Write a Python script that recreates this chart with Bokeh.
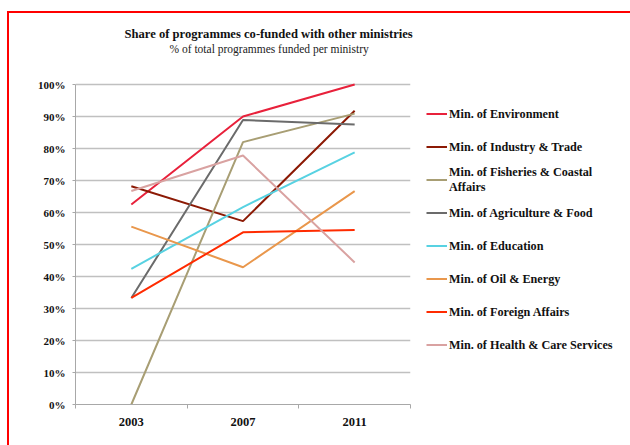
from bokeh.plotting import figure
from bokeh.models import Range1d, FixedTicker, NumeralTickFormatter, Legend, LegendItem, Title
from bokeh.embed import file_html
from bokeh.resources import INLINE

# ---- data ----
years = ["2003", "2007", "2011"]
ministries = [
    "Min. of Environment",
    "Min. of Industry & Trade",
    "Min. of Fisheries & Coastal\nAffairs",
    "Min. of Agriculture & Food",
    "Min. of Education",
    "Min. of Oil & Energy",
    "Min. of Foreign Affairs",
    "Min. of Health & Care Services",
]
environment = [0.625, 0.900, 1.000]
industry_trade = [0.682, 0.573, 0.918]
fisheries = [0.000, 0.820, 0.909]
agriculture = [0.333, 0.889, 0.875]
education = [0.424, 0.617, 0.788]
oil_energy = [0.556, 0.429, 0.667]
foreign_affairs = [0.333, 0.538, 0.545]
health = [0.667, 0.778, 0.444]
y_ticks = [0.0, 0.1, 0.2, 0.3, 0.4, 0.5, 0.6, 0.7, 0.8, 0.9, 1.0]

series = [environment, industry_trade, fisheries, agriculture,
          education, oil_energy, foreign_affairs, health]
colors = ["#e8213b", "#8c1a05", "#a89e74", "#6b6b6b",
          "#58d2e2", "#e9974c", "#ff2b00", "#d9a2a1"]

x_pos = [i + 0.5 for i in range(len(years))]

SERIF = "Liberation Serif"

p = figure(frame_width=335, frame_height=350, output_backend="svg", toolbar_location=None,
           x_range=Range1d(0, len(years)), y_range=Range1d(0, 1.09375),
           min_border_left=66, min_border_right=220, min_border_top=41,
           min_border_bottom=41)
p.styles = {"border-left": "2px solid #ff0000", "border-top": "2px solid #ff0000",
            "margin-top": "11px", "margin-left": "7px"}
p.outline_line_color = None
p.background_fill_color = "white"
p.border_fill_color = "white"

renderers = []
for vals, c in zip(series, colors):
    r = p.line(x=x_pos, y=vals, line_color=c, line_width=2)
    renderers.append(r)

# x axis
xa = p.xaxis[0]
xa.ticker = FixedTicker(ticks=x_pos, minor_ticks=list(range(len(years) + 1)))
xa.major_label_overrides = {xp: y for xp, y in zip(x_pos, years)}
xa.major_tick_out = 0
xa.major_tick_in = 0
xa.minor_tick_out = 4
xa.minor_tick_in = 0
xa.minor_tick_line_color = "#a8a8a8"
xa.axis_line_color = "#a8a8a8"
xa.major_label_text_font = SERIF
xa.major_label_text_font_style = "bold"
xa.major_label_text_font_size = "12.5px"
xa.major_label_text_color = "#111111"
xa.major_label_standoff = 9

# y axis
ya = p.yaxis[0]
ya.ticker = FixedTicker(ticks=y_ticks)
ya.formatter = NumeralTickFormatter(format="0%")
ya.bounds = (0, 1)
ya.major_tick_out = 3
ya.major_tick_in = 0
ya.minor_tick_out = 0
ya.minor_tick_in = 0
ya.major_tick_line_color = "#a8a8a8"
ya.axis_line_color = "#a8a8a8"
ya.major_label_text_font = SERIF
ya.major_label_text_font_style = "bold"
ya.major_label_text_font_size = "11px"
ya.major_label_text_color = "#111111"
ya.major_label_standoff = 7

p.xgrid.visible = False
p.ygrid.ticker = FixedTicker(ticks=y_ticks)
p.ygrid.grid_line_color = "#c0c0c0"
p.ygrid.grid_line_width = 1.5

# titles (subtitle added first -> closest to the plot)
p.add_layout(Title(text="% of total programmes funded per ministry",
                   text_font=SERIF, text_font_size="11.5px", text_font_style="normal",
                   text_color="#222222", align="left", offset=94, standoff=0,
                   vertical_align="bottom"), "above")
p.add_layout(Title(text="Share of programmes co-funded with other ministries",
                   text_font=SERIF, text_font_size="12.6px", text_font_style="bold",
                   text_color="#111111", align="left", offset=49, standoff=0,
                   vertical_align="bottom"), "above")

legend = Legend(
    items=[LegendItem(label=m, renderers=[r]) for m, r in zip(ministries, renderers)],
    location="left", orientation="vertical",
    glyph_width=21, glyph_height=30, label_height=30, label_width=10,
    spacing=3, padding=0, margin=16, label_standoff=2,
    label_text_font=SERIF, label_text_font_style="bold",
    label_text_font_size="12.2px", label_text_color="#111111",
    border_line_color=None, background_fill_alpha=0,
)
p.add_layout(legend, "right")

open("out.html", "w").write(file_html(p, INLINE))
